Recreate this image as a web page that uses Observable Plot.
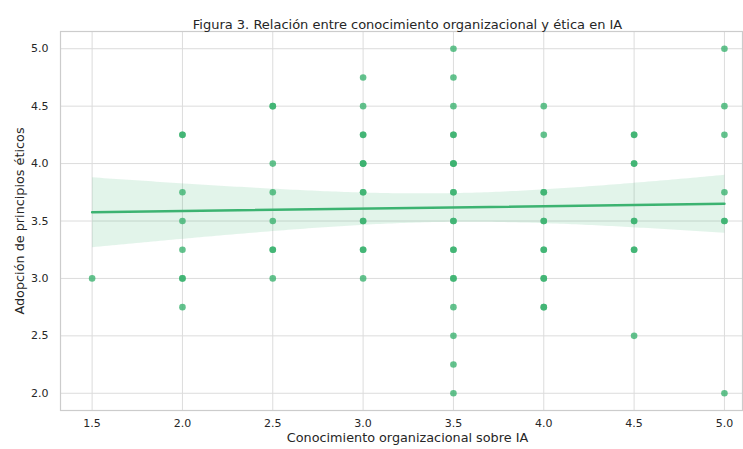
<!DOCTYPE html>
<html>
<head>
<meta charset="utf-8">
<script src="https://cdn.jsdelivr.net/npm/d3@7"></script>
<script src="https://cdn.jsdelivr.net/npm/@observablehq/plot@0.6"></script>
<style>
  html, body { margin: 0; padding: 0; background: #fff; }
  svg { font-family: "DejaVu Sans", sans-serif; }
</style>
</head>
<body>
<div id="chart"></div>
<script>
const title = "Figura 3. Relación entre conocimiento organizacional y ética en IA";
const xLabel = "Conocimiento organizacional sobre IA";
const yLabel = "Adopción de principios éticos";
const xTicks = [1.5, 2.0, 2.5, 3.0, 3.5, 4.0, 4.5, 5.0];
const yTicks = [2.0, 2.5, 3.0, 3.5, 4.0, 4.5, 5.0];

// conocimiento levels (x) and the ética scores (y) of respondents at each level
const conocimiento = [1.5, 2.0, 2.5, 3.0, 3.5, 4.0, 4.5, 5.0];
const etica = [
  [3.0],
  [4.25, 4.25, 3.75, 3.5, 3.25, 3.0, 3.0, 2.75],
  [4.5, 4.5, 4.0, 3.75, 3.5, 3.25, 3.25, 3.0],
  [4.75, 4.5, 4.25, 4.25, 4.0, 4.0, 4.0, 3.75, 3.75, 3.5, 3.5, 3.25, 3.25, 3.0],
  [5.0, 4.75, 4.5, 4.25, 4.25, 4.0, 4.0, 4.0, 3.75, 3.75, 3.5, 3.5, 3.25, 3.25, 3.0, 3.0, 2.75, 2.5, 2.25, 2.0],
  [4.5, 4.25, 3.75, 3.75, 3.5, 3.5, 3.25, 3.25, 3.0, 3.0, 2.75, 2.75],
  [4.25, 4.25, 4.0, 4.0, 3.5, 3.5, 3.25, 3.25, 2.5],
  [5.0, 4.5, 4.25, 3.75, 3.5, 3.5, 2.0]
];
const data = conocimiento.flatMap((x, i) => etica[i].map(y => ({x, y})));

const green = "#3cb371";
const ink = "#262626";

const chart = Plot.plot({
  width: 743,
  height: 449,
  marginLeft: 60,
  marginRight: 1,
  marginTop: 31,
  marginBottom: 39,
  style: {fontFamily: "DejaVu Sans, sans-serif", fontSize: "11px", color: ink, background: "#fff"},
  x: {domain: [1.325, 5.1], ticks: xTicks, tickFormat: d3.format(".1f")},
  y: {domain: [1.85, 5.15], ticks: yTicks, tickFormat: d3.format(".1f")},
  marks: [
    Plot.gridX(xTicks, {stroke: "#dcdcdc", strokeOpacity: 1, strokeWidth: 1}),
    Plot.gridY(yTicks, {stroke: "#dcdcdc", strokeOpacity: 1, strokeWidth: 1}),
    Plot.frame({stroke: "#cccccc", strokeWidth: 1.2}),
    Plot.axisX(xTicks, {tickSize: 0, tickPadding: 9, label: null, fill: ink, fontSize: 11}),
    Plot.axisY(yTicks, {tickSize: 0, tickPadding: 12, label: null, fill: ink, fontSize: 11}),
    Plot.dot(data, {x: "x", y: "y", r: 3.3, fill: green, fillOpacity: 0.8, stroke: null}),
    Plot.linearRegressionY(data, {x: "x", y: "y", stroke: green, fill: green, fillOpacity: 0.15, strokeWidth: 2.5, ci: 0.9}),
    Plot.text([title], {frameAnchor: "top", dy: -12, dx: 6, fontSize: 13, fill: ink}),
    Plot.text([xLabel], {frameAnchor: "bottom", dy: 31, dx: 6, fontSize: 12.8, fill: ink}),
    Plot.text([yLabel], {frameAnchor: "left", textAnchor: "middle", rotate: -90, dx: -41, fontSize: 12.8, fill: ink})
  ]
});
document.getElementById("chart").appendChild(chart);
</script>
</body>
</html>
